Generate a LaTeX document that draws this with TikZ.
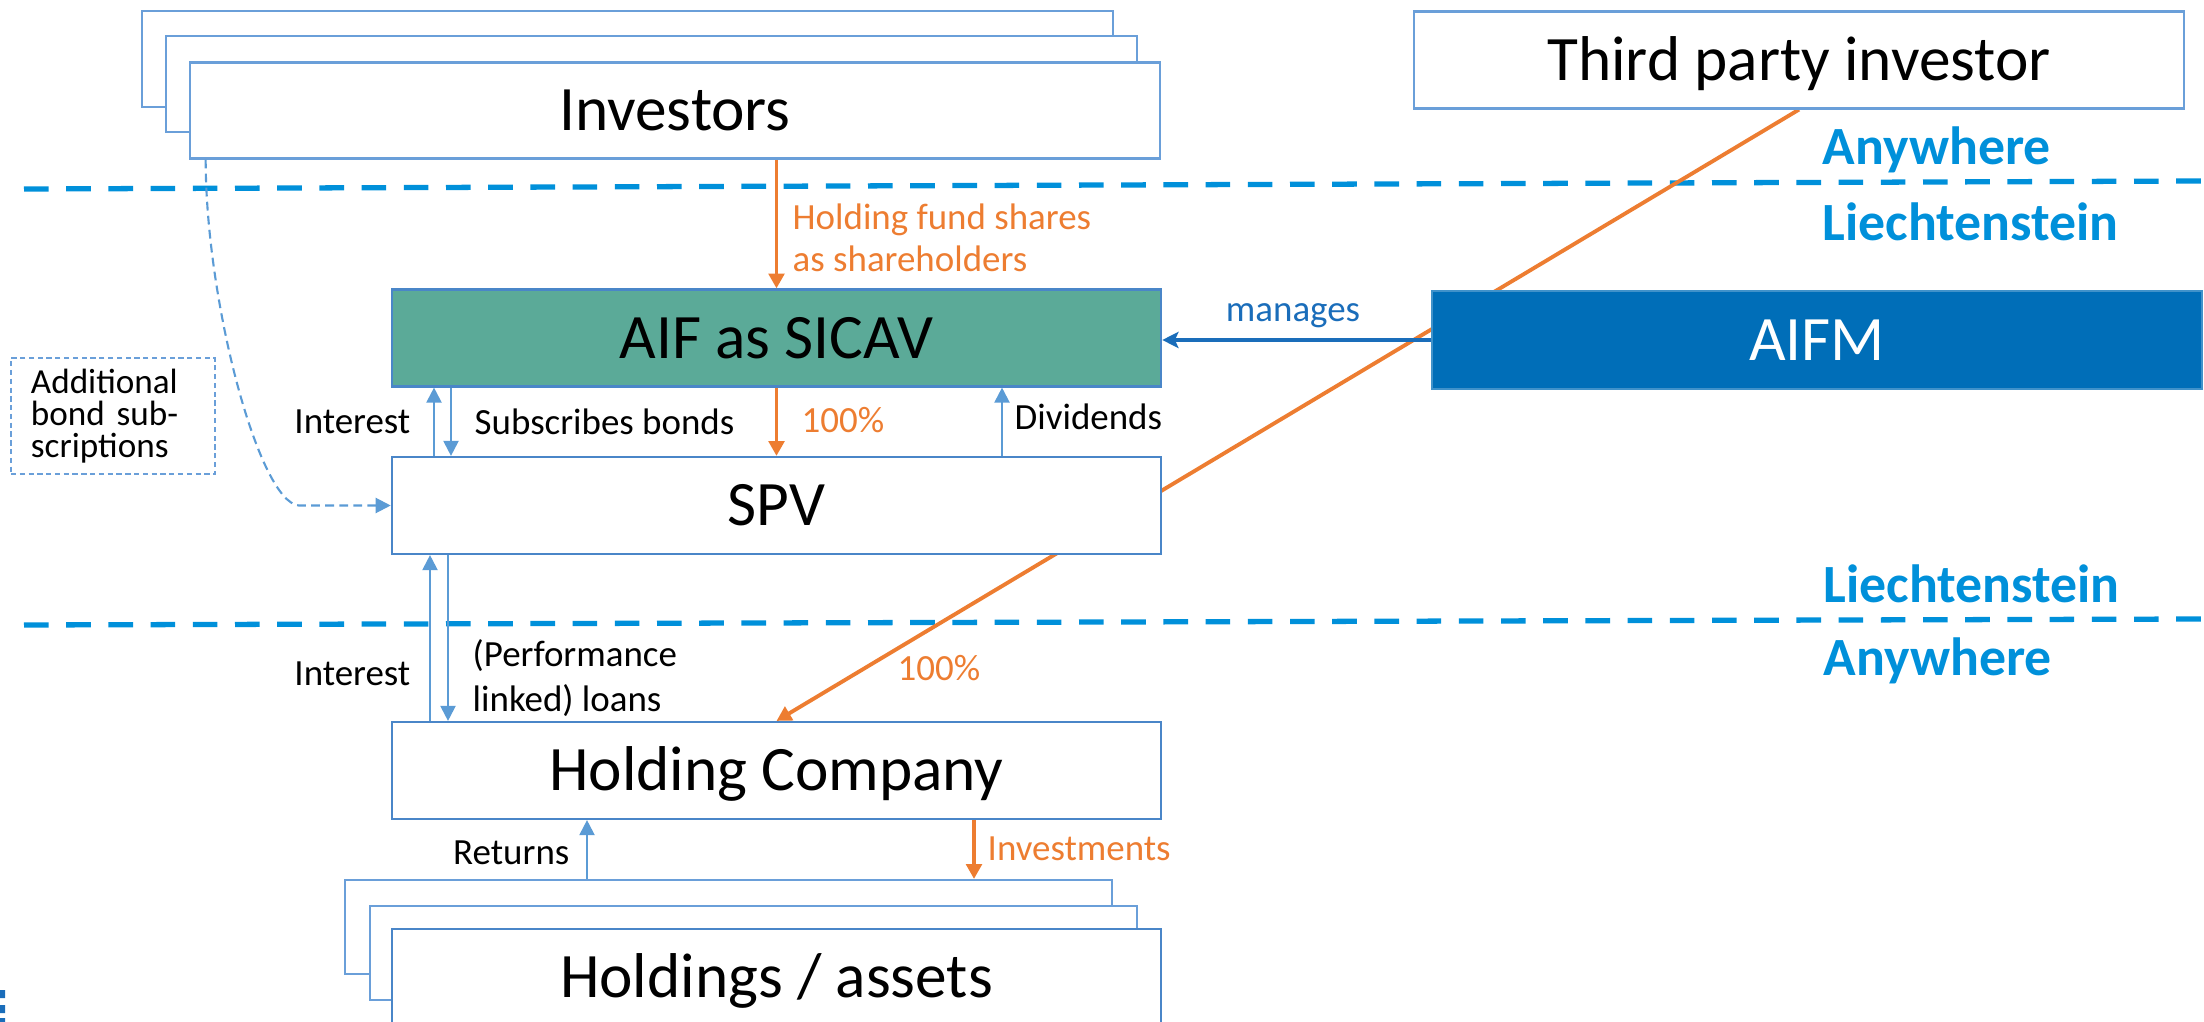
\documentclass[tikz,border=0pt]{standalone}
\usepackage{fontspec}
\setmainfont{Carlito}
\usetikzlibrary{arrows.meta,backgrounds}

\definecolor{boxblue}{HTML}{4A86C8}
\definecolor{stackblue}{HTML}{6A9FD9}
\definecolor{arrowblue}{HTML}{5B9BD5}
\definecolor{fundteal}{HTML}{5BAA98}
\definecolor{aifmblue}{HTML}{006EB8}
\definecolor{managesblue}{HTML}{1A6DBA}
\definecolor{borderblue}{HTML}{0090DA}
\definecolor{flow}{HTML}{ED7D31}

\newcommand\boxfont{\fontsize{18}{21}\selectfont}
\newcommand\lblfont{\fontsize{10.5}{12}\selectfont}
\newcommand\regionfont{\fontsize{15.3}{18}\selectfont\bfseries}

\tikzset{
  box/.style={draw=boxblue, line width=0.6pt, fill=white, minimum width=7.69cm, minimum height=0.97cm,
    inner sep=0pt, font=\boxfont, text height=11.6pt, text depth=0pt},
  stack/.style={box, draw=stackblue, minimum width=9.70cm, minimum height=0.96cm},
  lbl/.style={inner sep=0pt, font=\lblfont},
  region/.style={inner sep=0pt, font=\regionfont, text=borderblue, anchor=base west},
  thinflow/.style={arrowblue, line width=0.6pt, -{Triangle[length=4.3pt,width=4.3pt]}},
  cashflow/.style={flow, line width=1.1pt, -{Triangle[length=4.2pt,width=4.4pt]}},
  mgmt/.style={managesblue, line width=0.95pt, -{Stealth[length=4.6pt,width=4.6pt,inset=1pt]}},
  addflow/.style={arrowblue, line width=0.6pt, dash pattern=on 2.5pt off 1.5pt, -{Triangle[length=4.3pt,width=4.3pt]}},
  borderline/.style={borderblue, line width=1.5pt, dash pattern=on 7pt off 5pt}
}

\begin{document}
\begin{tikzpicture}[x=0.01cm, y=-0.01cm]

\useasboundingbox (0,0) rectangle (2204,1022);

% BOXES
\node[stack] (invBack) at (627.5,59) {};
\node[stack] (invMid) at (651.5,84) {};
\node[stack] (investors) at (675,110.5) {Investors};

\node[box, fill=fundteal] (aif) at (776.5,338) {AIF as SICAV};
\node[box] (spv) at (776.5,505.5) {SPV};
\node[box] (hold) at (776.5,770.5) {Holding Company};

\node[stack, minimum width=7.67cm, minimum height=0.94cm] (assBack) at (728.5,927) {};
\node[stack, minimum width=7.67cm, minimum height=0.94cm] (assMid) at (753.5,953) {};
\node[box] (assets) at (776.5,977.5) {Holdings / assets};

\node[box, draw=stackblue, minimum width=7.70cm] (third) at (1799,60) {Third party investor};
\node[box, fill=aifmblue, draw=aifmblue!75!white, text=white, minimum width=7.70cm, minimum height=0.98cm] (aifm) at (1817,340) {AIFM};

\node[draw=stackblue, line width=0.6pt, dash pattern=on 1.5pt off 1pt, text width=1.64cm, minimum height=1.16cm,
  inner xsep=0.2cm, inner ysep=0pt, align=left, font=\fontsize{10}{9}\selectfont] (addl) at (113,416) {Additional\\bond sub-\\scriptions};

% BORDERS
\coordinate (sepTopL) at (24,189);
\coordinate (sepTopR) at (2204,181);
\coordinate (sepLowL) at (24,625);
\coordinate (sepLowR) at (2204,619);

\begin{scope}[on background layer]
\draw[borderline] (sepTopL) -- (sepTopR);
\draw[borderline] (sepLowL) -- (sepLowR);
\draw[cashflow] (third.south) -- (hold.north);
\end{scope}

\node[region] (anyTop) at (1822,164.6) {Anywhere};
\node[region] (liTop) at (1822,240.8) {Liechtenstein};
\node[region] (liLow) at (1823,603) {Liechtenstein};
\node[region] (anyLow) at (1823,675) {Anywhere};

% ARROWS
\coordinate (xIntA) at (434,0);
\coordinate (xSub) at (451,0);
\coordinate (xDiv) at (1002,0);
\coordinate (xIntB) at (430,0);
\coordinate (xLoan) at (448,0);
\coordinate (xRet) at (587,0);
\coordinate (xInv) at (974,0);

\draw[cashflow] (investors.south -| aif.north) -- (aif.north);
\draw[cashflow] (aif.south) -- (spv.north);
\draw[thinflow] (spv.north -| xIntA) -- (aif.south -| xIntA);
\draw[thinflow] (aif.south -| xSub) -- (spv.north -| xSub);
\draw[thinflow] (spv.north -| xDiv) -- (aif.south -| xDiv);
\draw[thinflow] (hold.north -| xIntB) -- (spv.south -| xIntB);
\draw[thinflow] (spv.south -| xLoan) -- (hold.north -| xLoan);
\draw[thinflow] (assBack.north -| xRet) -- (hold.south -| xRet);
\draw[cashflow] (hold.south -| xInv) -- (assBack.north -| xInv);
\draw[mgmt] (aifm.west) -- (aifm.west -| aif.east);
\draw[addflow] ([xshift=0.17cm]investors.south west) .. controls +(0,141) and +(-40,-4) .. ([xshift=-0.92cm]spv.west) -- (spv.west);

% LABELS
\node[lbl, text=flow, anchor=base west, align=left, font=\fontsize{10.5}{11.9}\selectfont] (lblShares) at (792,271.7) {Holding fund shares\\as shareholders};
\node[lbl, anchor=base east] (lblIntA) at (411,433.3) {Interest};
\node[lbl, anchor=base west] (lblSub) at (474,435) {Subscribes bonds};
\node[lbl, text=flow, anchor=base west] (lblPctA) at (801,432.3) {100\%};
\node[lbl, anchor=base west] (lblDiv) at (1014,430) {Dividends};
\node[lbl, anchor=base east] (lblIntB) at (411,685) {Interest};
\node[lbl, anchor=base west, align=left, font=\fontsize{10.5}{12.8}\selectfont] (lblLoan) at (472,711.7) {(Performance\\linked) loans};
\node[lbl, text=flow, anchor=base west] (lblPctB) at (897,680) {100\%};
\node[lbl, anchor=base east] (lblRet) at (570,864) {Returns};
\node[lbl, text=flow, anchor=base west] (lblInv) at (987,860.7) {Investments};
\node[lbl, text=managesblue, anchor=base] (lblMan) at (1293,321.7) {manages};

% LOGO EDGE
\fill[managesblue] (0,990) rectangle (5,998) (0,1005) rectangle (5,1013) (0,1018) rectangle (5,1022);

\end{tikzpicture}
\end{document}
